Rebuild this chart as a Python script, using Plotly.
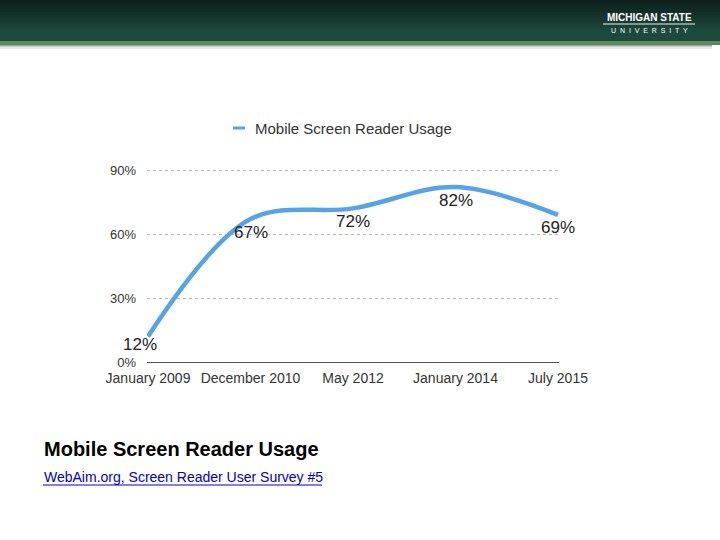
import plotly.graph_objects as go

# ---- data ----
categories = ["January 2009", "December 2010", "May 2012", "January 2014", "July 2015"]
usage = [12, 67, 72, 82, 69]
value_labels = ["12%", "67%", "72%", "82%", "69%"]
y_ticks = [0, 30, 60, 90]
y_tick_labels = ["0%", "30%", "60%", "90%"]
series_name = "Mobile Screen Reader Usage"

W, H = 720, 540
L, R, T, B = 147, 161, 160, 178  # plot area 147..559 x, 160..362 y

LINE_COLOR = "#58a3e6"
x_idx = list(range(len(categories)))

fig = go.Figure()
fig.add_trace(go.Scatter(
    x=x_idx, y=usage, mode="lines", name=series_name,
    line=dict(color=LINE_COLOR, width=4.5, shape="spline", smoothing=1.0),
    showlegend=False, hoverinfo="skip",
))

annotations = []
for i, (v, lab) in enumerate(zip(usage, value_labels)):
    annotations.append(dict(
        x=i, y=v, xref="x", yref="y", text=lab, showarrow=False,
        yshift=(-8 if i == 0 else -13), xshift=(-8 if i == 0 else 0),
        borderpad=0,
        font=dict(family="Liberation Sans, Arial", size=17, color="#222"),
    ))


def px_x(px):
    return (px - L) / (W - L - R)


def px_y(py):
    return (H - B - py) / (H - T - B)


shapes = []
# legend (short dash + text)
shapes.append(dict(type="line", xref="paper", yref="paper",
                   x0=px_x(233), x1=px_x(245), y0=px_y(128), y1=px_y(128),
                   line=dict(color=LINE_COLOR, width=3)))
annotations.append(dict(
    x=px_x(253), y=px_y(128), xref="paper", yref="paper", text=series_name,
    showarrow=False, xanchor="left", yanchor="middle",
    font=dict(family="Liberation Sans, Arial", size=15, color="#333"),
))

# header gradient band (overlapping rects, drawn top to bottom)
top = (13, 31, 26)
bot = (30, 74, 61)
n = 24
for k in range(n):
    f = min(1.0, k / (n * 0.75))
    c = tuple(int(round(top[j] + (bot[j] - top[j]) * f)) for j in range(3))
    y0 = k * 41 / n
    shapes.append(dict(type="rect", xref="paper", yref="paper",
                       x0=px_x(0), x1=px_x(720), y0=px_y(41), y1=px_y(y0),
                       fillcolor="rgb(%d,%d,%d)" % c, line=dict(width=0), layer="below"))
# green stripe
shapes.append(dict(type="rect", xref="paper", yref="paper",
                   x0=px_x(0), x1=px_x(720), y0=px_y(45), y1=px_y(41),
                   fillcolor="#5e8a5e", line=dict(width=0), layer="below"))
# grey shadow
for k, col in enumerate(["#9aa39c", "#c8ccc9", "#e6e8e6"]):
    shapes.append(dict(type="rect", xref="paper", yref="paper",
                       x0=px_x(0), x1=px_x(712), y0=px_y(46 + k + 1), y1=px_y(45 + k),
                       fillcolor=col, line=dict(width=0), layer="below"))

# MSU wordmark
annotations.append(dict(
    x=px_x(649), y=px_y(17), xref="paper", yref="paper", text="<b>MICHIGAN STATE</b>",
    showarrow=False, xanchor="center", yanchor="middle",
    font=dict(family="Liberation Sans Narrow, Liberation Sans, Arial", size=10, color="white"),
))
shapes.append(dict(type="line", xref="paper", yref="paper",
                   x0=px_x(603), x1=px_x(695), y0=px_y(24), y1=px_y(24),
                   line=dict(color="#a9b8b0", width=1.5)))
annotations.append(dict(
    x=px_x(649), y=px_y(30), xref="paper", yref="paper", text="U  N  I  V  E  R  S  I  T  Y",
    showarrow=False, xanchor="center", yanchor="middle",
    font=dict(family="Liberation Sans, Arial", size=7, color="white"),
))

# caption
annotations.append(dict(
    x=px_x(42), y=px_y(449), xref="paper", yref="paper", text="<b>Mobile Screen Reader Usage</b>",
    showarrow=False, xanchor="left", yanchor="middle",
    font=dict(family="Liberation Sans, Arial", size=20, color="black"),
))
annotations.append(dict(
    x=px_x(42), y=px_y(477), xref="paper", yref="paper",
    text="WebAim.org, Screen Reader User Survey #5",
    showarrow=False, xanchor="left", yanchor="middle",
    font=dict(family="Liberation Sans, Arial", size=14, color="#0000cc"),
))
shapes.append(dict(type="line", xref="paper", yref="paper",
                   x0=px_x(43), x1=px_x(322), y0=px_y(485), y1=px_y(485),
                   line=dict(color="#0000cc", width=1)))

span = (W - L - R)
pad = 1 / (span / 4)
fig.update_layout(
    width=W, height=H,
    margin=dict(l=L, r=R, t=T, b=B, pad=0),
    paper_bgcolor="white", plot_bgcolor="white",
    xaxis=dict(
        range=[-pad, 4 + pad], tickmode="array", tickvals=x_idx, ticktext=categories,
        showgrid=False, zeroline=False, showline=False, ticks="", ticklen=0,
        ticklabelstandoff=6,
        tickfont=dict(family="Liberation Sans, Arial", size=14, color="#333"),
        fixedrange=True,
    ),
    yaxis=dict(
        range=[0, 90 * 202 / 192], tickmode="array", tickvals=y_ticks, ticktext=y_tick_labels,
        showgrid=True, gridcolor="#b5b5b5", griddash="dot", gridwidth=1,
        zeroline=True, zerolinecolor="#555555", zerolinewidth=1,
        showline=False, ticks="", ticklabelstandoff=10,
        tickfont=dict(family="Liberation Sans, Arial", size=13, color="#333"),
        fixedrange=True,
    ),
    shapes=shapes,
    annotations=annotations,
    showlegend=False,
)

fig.write_html(
    "out.html",
    config={"displayModeBar": False, "staticPlot": True},
    post_script="document.body.style.margin='0';document.body.style.overflow='hidden';",
)
